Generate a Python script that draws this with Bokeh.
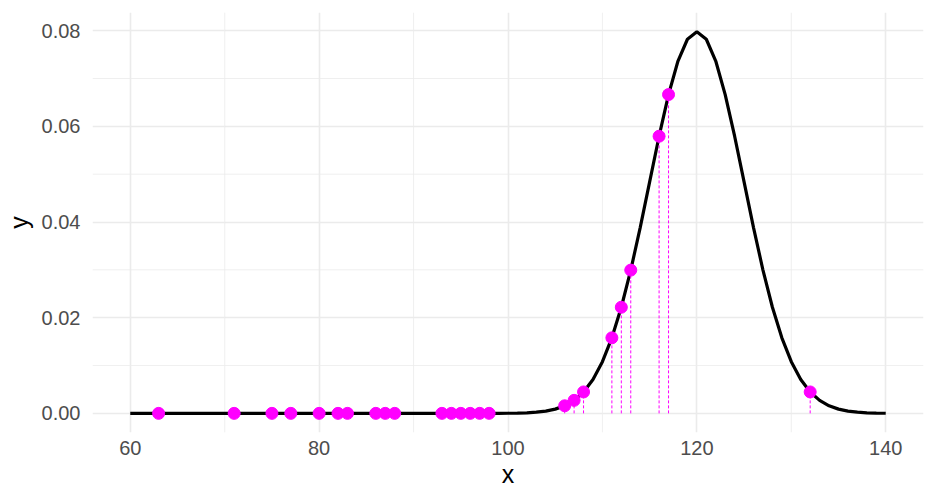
from bokeh.plotting import figure
from bokeh.models import Range1d, FixedTicker, ColumnDataSource
from bokeh.embed import file_html
from bokeh.resources import INLINE

# density curve (x, y)
curve_x = [60, 70, 80, 90, 95, 96, 97, 98, 99, 100, 101, 102, 103, 104, 105, 106, 107, 108, 109,
           110, 111, 112, 113, 114, 115, 116, 117, 118, 119, 120, 121, 122, 123, 124, 125, 126,
           127, 128, 129, 130, 131, 132, 133, 134, 135, 136, 137, 138, 139, 140]
curve_y = [0.0, 0.0, 0.0, 0.0, 0.0000001, 0.0000005, 0.0000020, 0.0000050, 0.0000117, 0.0000268,
           0.0000584, 0.000122, 0.000246, 0.000477, 0.000886, 0.001583, 0.002717, 0.004479,
           0.007095, 0.010798, 0.015790, 0.022184, 0.029946, 0.038837, 0.048394, 0.057938,
           0.066645, 0.073654, 0.078209, 0.079788, 0.078209, 0.073654, 0.066645, 0.057938,
           0.048394, 0.038837, 0.029946, 0.022184, 0.015790, 0.010798, 0.007095, 0.004479,
           0.002717, 0.001583, 0.000886, 0.000477, 0.000246, 0.000122, 0.0000584, 0.0000268]

# sample points
pts_x = [63, 71, 75, 77, 80, 82, 83, 86, 87, 88, 93, 94, 95, 96, 97, 98,
         106, 107, 108, 111, 112, 113, 116, 117, 132]
pts_y = [0.0, 0.0, 0.0, 0.0, 0.0, 0.0, 0.0, 0.0, 0.0, 0.0, 0.0, 0.0, 0.0, 0.0000004, 0.0000020, 0.0000050,
         0.001583, 0.002717, 0.004479, 0.015790, 0.022184, 0.029946, 0.057938, 0.066645, 0.004479]

x_ticks = [60, 80, 100, 120, 140]
x_minor = [70, 90, 110, 130]
y_ticks = [0.0, 0.02, 0.04, 0.06, 0.08]
y_minor = [0.01, 0.03, 0.05, 0.07]

p = figure(width=928, height=496, output_backend="svg", toolbar_location=None,
           x_range=Range1d(56, 144), y_range=Range1d(-0.004, 0.0838),
           min_border_left=92, min_border_right=5, min_border_top=12, min_border_bottom=64)
p.outline_line_color = None
p.background_fill_color = "white"
p.border_fill_color = "white"

# minor grid
for v in x_minor:
    p.segment(x0=v, y0=-0.004, x1=v, y1=0.0838, line_color="#EBEBEB", line_width=0.8)
for v in y_minor:
    p.segment(x0=56, y0=v, x1=144, y1=v, line_color="#EBEBEB", line_width=0.8)

for ax in (p.xaxis[0], p.yaxis[0]):
    ax.axis_line_color = None
    ax.major_tick_line_color = None
    ax.minor_tick_line_color = None
    ax.major_tick_out = 0
    ax.minor_tick_out = 0
    ax.major_label_text_font = "Liberation Sans"
    ax.major_label_text_font_size = "20px"
    ax.major_label_text_color = "#4D4D4D"
    ax.axis_label_text_font = "Liberation Sans"
    ax.axis_label_text_font_size = "25px"
    ax.axis_label_text_font_style = "normal"
    ax.axis_label_text_color = "black"

p.xaxis.ticker = FixedTicker(ticks=x_ticks)
p.yaxis.ticker = FixedTicker(ticks=y_ticks)
p.yaxis.major_label_overrides = {v: f"{v:.2f}" for v in y_ticks}
p.xaxis.axis_label = "x"
p.yaxis.axis_label = "y"
p.xaxis.major_label_standoff = 8
p.yaxis.major_label_standoff = 12
p.xaxis.axis_label_standoff = 2
p.yaxis.axis_label_standoff = 6

p.xgrid.ticker = FixedTicker(ticks=x_ticks)
p.ygrid.ticker = FixedTicker(ticks=y_ticks)
p.xgrid.grid_line_color = "#EBEBEB"
p.ygrid.grid_line_color = "#EBEBEB"
p.xgrid.grid_line_width = 1.6
p.ygrid.grid_line_width = 1.6

src = ColumnDataSource(dict(x=pts_x, y=pts_y, y0=[0.0] * len(pts_x)))
p.line(curve_x, curve_y, line_color="black", line_width=3.2)
p.segment(x0="x", y0="y0", x1="x", y1="y", source=src, line_color="#FF00FF",
          line_width=1, line_dash="3 2")
p.scatter(x="x", y="y", source=src, size=12, fill_color="#FF00FF", line_color="#FF00FF")

open("out.html", "w").write(file_html(p, INLINE))
